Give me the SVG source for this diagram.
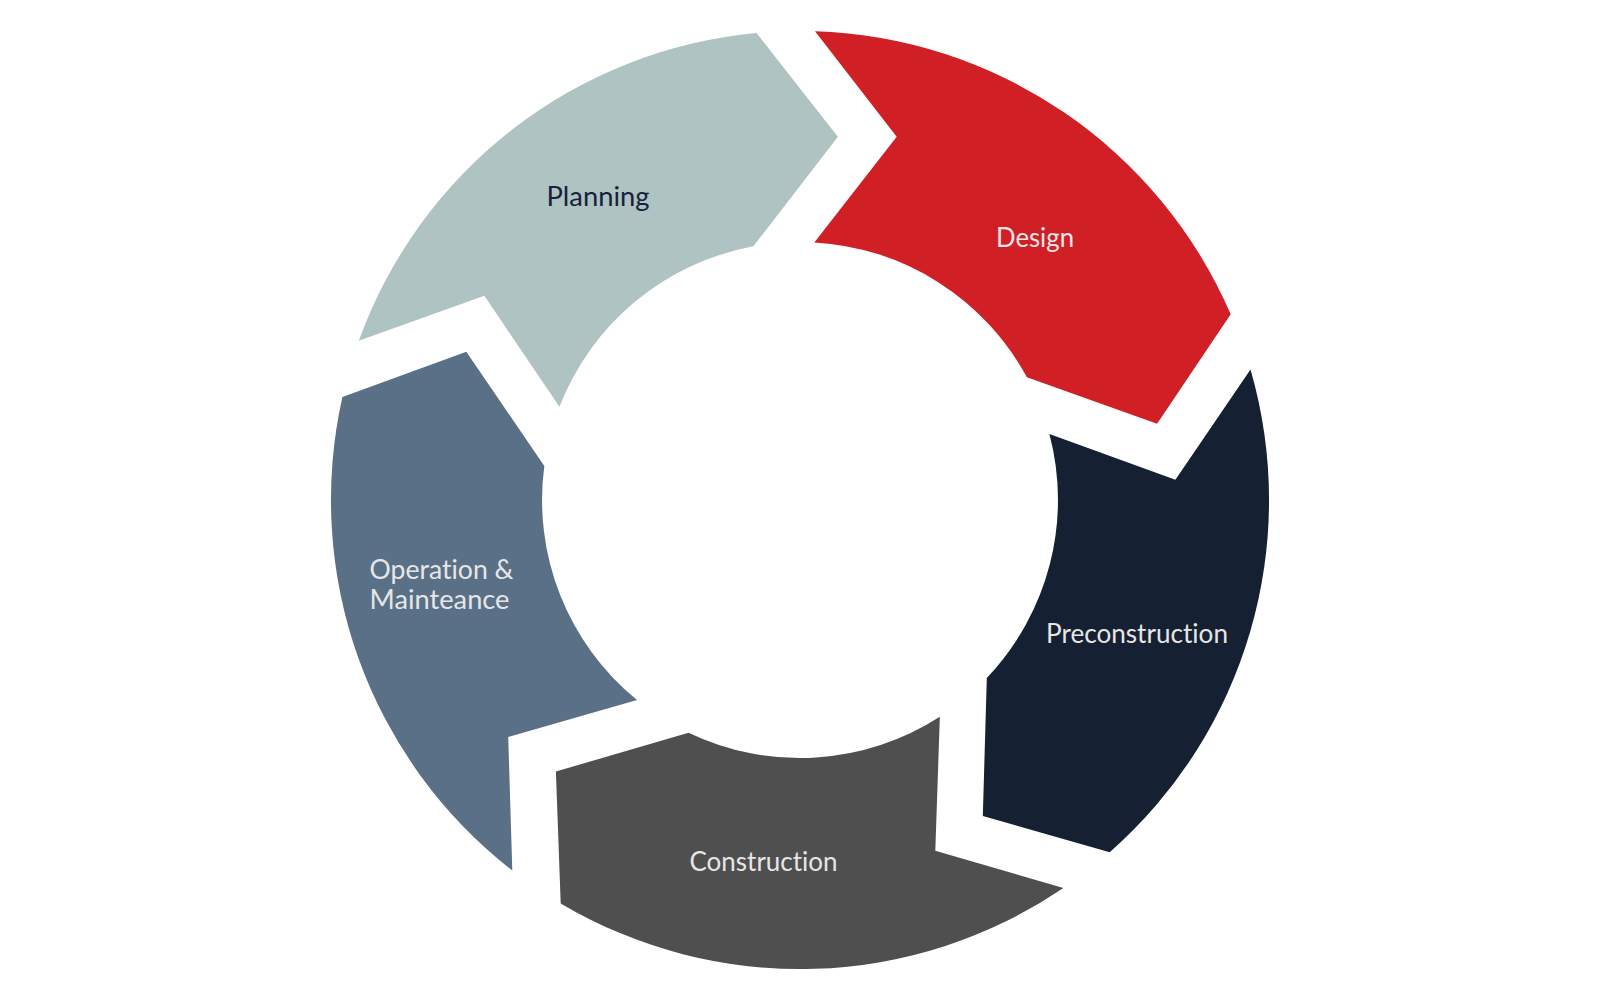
<svg xmlns="http://www.w3.org/2000/svg" xmlns:xlink="http://www.w3.org/1999/xlink" width="1600" height="1000" viewBox="0 0 1600 1000">
  <style>
    .lbl { font-family: Lato, "Open Sans", "Liberation Sans", sans-serif; font-size: 26px; font-weight: normal; font-variant-ligatures: none; }
    .light { fill: #e6e6e6; }
    .dark { fill: #17213a; }
  </style>
  <defs>
    <path id="seg" d="M815,31.2 A469,469 0 0 1 1230.7,314.3 L1157.1,423.8 L1026.9,377.3 A258,258 0 0 0 814.3,242.4 L896.7,136.7 Z"/>
  </defs>
  <rect width="1600" height="1000" fill="#ffffff"/>
  <g id="design">
    <use xlink:href="#seg" href="#seg" fill="#d11f26"/>
    <text class="lbl light" x="996" y="247" textLength="78" lengthAdjust="spacingAndGlyphs">Design</text>
  </g>
  <g id="preconstruction">
    <use xlink:href="#seg" href="#seg" fill="#162033" transform="rotate(72 800 500)"/>
    <text class="lbl light" x="1046" y="643.3" textLength="182" lengthAdjust="spacingAndGlyphs">Preconstruction</text>
  </g>
  <g id="construction">
    <use xlink:href="#seg" href="#seg" fill="#4f4f4f" transform="rotate(144 800 500)"/>
    <text class="lbl light" x="689.5" y="871" textLength="148" lengthAdjust="spacingAndGlyphs">Construction</text>
  </g>
  <g id="operation">
    <use xlink:href="#seg" href="#seg" fill="#5a7087" transform="rotate(216 800 500)"/>
    <text class="lbl light" x="369.5" y="579.3" textLength="144" lengthAdjust="spacingAndGlyphs">Operation &amp;</text>
    <text class="lbl light" x="369.5" y="609.3" textLength="140" lengthAdjust="spacingAndGlyphs">Mainteance</text>
  </g>
  <g id="planning">
    <use xlink:href="#seg" href="#seg" fill="#afc3c3" transform="rotate(288 800 500)"/>
    <text class="lbl dark" x="546.5" y="206" textLength="103" lengthAdjust="spacingAndGlyphs">Planning</text>
  </g>
</svg>
